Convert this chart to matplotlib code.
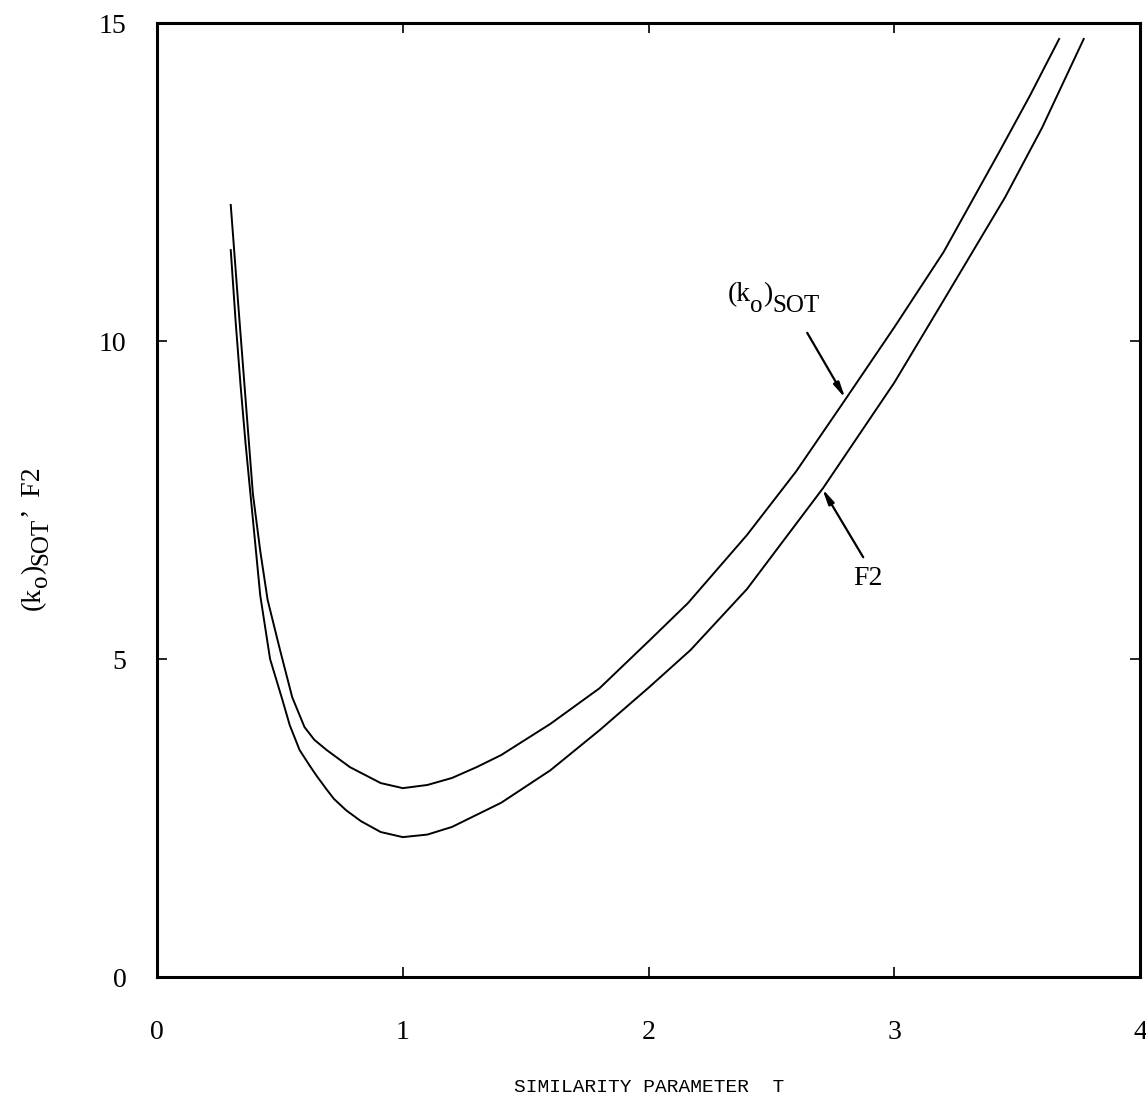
import matplotlib
matplotlib.use('Agg')
import matplotlib.pyplot as plt
from matplotlib.transforms import IdentityTransform

plt.rcParams['font.family'] = ['Liberation Serif', 'DejaVu Serif']
plt.rcParams['mathtext.default'] = 'regular'

# (k_o)_SOT curve
t_sot = [0.30, 0.33, 0.35, 0.37, 0.39, 0.42, 0.45, 0.50, 0.55, 0.60, 0.64, 0.69,
         0.785, 0.91, 1.00, 1.10, 1.20, 1.30, 1.40, 1.60, 1.80, 2.00, 2.16, 2.40,
         2.60, 2.80, 3.00, 3.20, 3.43, 3.55, 3.67]
k_sot = [12.14, 10.6, 9.6, 8.6, 7.6, 6.7, 5.93, 5.15, 4.4, 3.93, 3.73, 3.57,
         3.30, 3.05, 2.97, 3.02, 3.13, 3.30, 3.49, 3.98, 4.54, 5.28, 5.88, 6.95,
         7.95, 9.08, 10.22, 11.4, 13.0, 13.85, 14.75]

# F2 curve
t_f2 = [0.30, 0.32, 0.34, 0.36, 0.38, 0.42, 0.46, 0.51, 0.54, 0.58, 0.62, 0.65,
        0.69, 0.72, 0.77, 0.83, 0.91, 1.00, 1.10, 1.20, 1.40, 1.60, 1.80, 2.00,
        2.17, 2.40, 2.71, 3.00, 3.20, 3.45, 3.60, 3.77]
f2 = [11.43, 10.3, 9.3, 8.4, 7.6, 6.0, 5.0, 4.36, 3.96, 3.57, 3.33, 3.16,
      2.95, 2.80, 2.62, 2.45, 2.28, 2.20, 2.24, 2.36, 2.74, 3.25, 3.88, 4.55,
      5.14, 6.1, 7.69, 9.35, 10.64, 12.26, 13.35, 14.75]

x_ticks = [0, 1, 2, 3, 4]
y_ticks = [0, 5, 10, 15]

fig = plt.figure(figsize=(11.46, 11.08), dpi=100)
ax = fig.add_axes([0.137, 0.1182, 0.858, 0.861])
rend = fig.canvas.get_renderer()

ax.plot(t_sot, k_sot, color='black', lw=1.4)
ax.plot(t_f2, f2, color='black', lw=1.4)

ax.set_xlim(0, 4)
ax.set_ylim(0, 15)
ax.set_xticks(x_ticks)
ax.set_yticks(y_ticks)
ax.tick_params(direction='in', length=7, width=1.2, top=True, right=True,
               labelsize=20)
ax.tick_params(axis='x', pad=31)
ax.tick_params(axis='y', pad=22)
for s in ax.spines.values():
    s.set_linewidth(2.2)


def typed(x, y, pieces, rot=0):
    # typewriter style text: subscripts stay full size, just dropped
    for s, drop, size in pieces:
        if rot == 0:
            t = fig.text(x, y - drop, s, transform=IdentityTransform(),
                         fontsize=size, ha='left', va='baseline')
            x = t.get_window_extent(rend).x1
        else:
            t = fig.text(x + drop, y, s, transform=IdentityTransform(),
                         fontsize=size, rotation=90, rotation_mode='anchor',
                         ha='left', va='baseline')
            y = t.get_window_extent(rend).y1


# curve labels with pointer arrows
arrow = dict(arrowstyle='-|>,head_width=0.18,head_length=0.9',
             color='black', lw=1.6, shrinkA=0, shrinkB=0)
ax.annotate('', xy=(2.80, 9.10), xytext=(2.645, 10.13), arrowprops=arrow)
x0, y0 = ax.transData.transform((2.32, 10.63))
typed(x0, y0, [('(k', 0, 20), ('o', 11, 18), (')', 0, 20), ('SOT', 11, 18)])

ax.annotate('', xy=(2.706, 7.68), xytext=(2.873, 6.60), arrowprops=arrow)
ax.text(2.89, 6.26, 'F2', fontsize=20, ha='center', va='center')

# axis titles
ax.set_xlabel('SIMILARITY PARAMETER  T', fontsize=14,
              family=['Liberation Mono', 'DejaVu Sans Mono'])
ax.xaxis.set_label_coords(0.50, -0.107)
typed(40, 1108 - 610, [('(k', 0, 20), ('o', 7, 18), (')', 0, 20),
                       ('SOT', 7, 18), ('\u2019  F2', 0, 20)], rot=90)

fig.savefig('out.png', dpi=100, facecolor='white')
